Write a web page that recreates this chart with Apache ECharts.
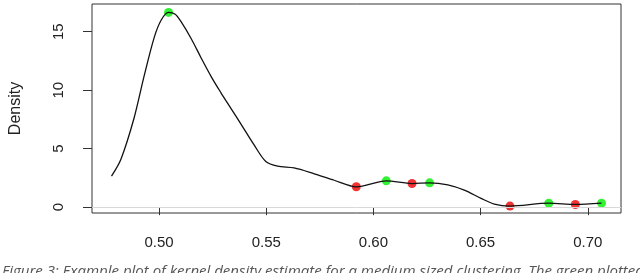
<!DOCTYPE html>
<html>
<head>
<meta charset="utf-8">
<script src="https://cdn.jsdelivr.net/npm/echarts@6/dist/echarts.min.js"></script>
<style>
html,body{margin:0;padding:0;background:#fff;}
#c{width:640px;height:273px;}
</style>
</head>
<body>
<div id="c"></div>
<script>
// Density curve (x, density)
const curveX = [0.4778,0.4822,0.4883,0.4930,0.4977,0.5010,0.5044,0.5075,0.5101,0.5150,0.5195,0.5245,0.5288,0.5335,0.5382,0.5444,0.5498,0.5553,0.5630,0.5724,0.5817,0.5920,0.6060,0.6180,0.6262,0.6347,0.6424,0.6502,0.6564,0.6637,0.6818,0.6942,0.7064];
const curveY = [2.65,4.1,7.6,11.2,14.5,16.0,16.65,16.5,15.9,14.4,12.8,11.1,9.8,8.45,7.1,5.3,3.9,3.5,3.35,2.85,2.3,1.74,2.25,2.02,2.08,1.9,1.45,0.75,0.26,0.09,0.34,0.23,0.34];
// Highlighted points
const greenX = [0.5044,0.6060,0.6262,0.6818,0.7064];
const greenY = [16.65,2.25,2.08,0.34,0.34];
const redX = [0.5920,0.6180,0.6637,0.6942];
const redY = [1.74,2.02,0.09,0.23];
// Tick labels
const xTicks = [0.50,0.55,0.60,0.65,0.70];
const yTicks = [0,5,10,15];
const yTitle = 'Density';
const caption = 'Figure 3: Example plot of kernel density estimate for a medium sized clustering. The green plotted';

const zip = (a,b) => a.map((v,i)=>[v,b[i]]);
const font = 'Liberation Sans, Arial, sans-serif';
const chart = echarts.init(document.getElementById('c'), null, {renderer:'canvas'});
chart.setOption({
  animation:false,
  backgroundColor:'#fff',
  title:{
    text: caption, left:-3, top:259,
    textStyle:{fontFamily:'Open Sans, Noto Sans, sans-serif', fontStyle:'italic', fontWeight:'normal', fontSize:15, color:'#555'}
  },
  grid:{left:91, top:4, right:19, bottom:60, show:true, borderColor:'#333', borderWidth:1, backgroundColor:'#fff'},
  xAxis:{
    type:'value', min:0.4687, max:0.7155,
    axisLine:{show:false},
    splitLine:{show:false},
    axisTick:{show:true, inside:false, length:8, customValues:xTicks, lineStyle:{color:'#333'}},
    axisLabel:{show:true, customValues:xTicks, margin:22, fontFamily:font, fontSize:15, color:'#222',
      formatter:v=>v.toFixed(2)}
  },
  yAxis:{
    type:'value', min:-0.5, max:17.37,
    name:yTitle, nameLocation:'middle', nameGap:68,
    nameTextStyle:{fontFamily:font, fontSize:16, color:'#222'},
    axisLine:{show:false},
    splitLine:{show:false},
    axisTick:{show:true, length:9, customValues:yTicks, lineStyle:{color:'#333'}},
    axisLabel:{show:true, customValues:yTicks, rotate:90, margin:26, fontFamily:font, fontSize:15, color:'#222'}
  },
  series:[
    {type:'line', data:zip(curveX,curveY), smooth:0.3, showSymbol:false, symbol:'none',
     lineStyle:{color:'#111', width:1.3},
     markLine:{silent:true, symbol:'none', label:{show:false},
       lineStyle:{color:'#d8d8d8', width:1, type:'solid'}, data:[{yAxis:0}]}},
    {type:'scatter', data:zip(greenX,greenY), symbolSize:9, itemStyle:{color:'#00ee00'}},
    {type:'scatter', data:zip(redX,redY), symbolSize:9, itemStyle:{color:'#ee0000'}}
  ]
});
</script>
</body>
</html>
